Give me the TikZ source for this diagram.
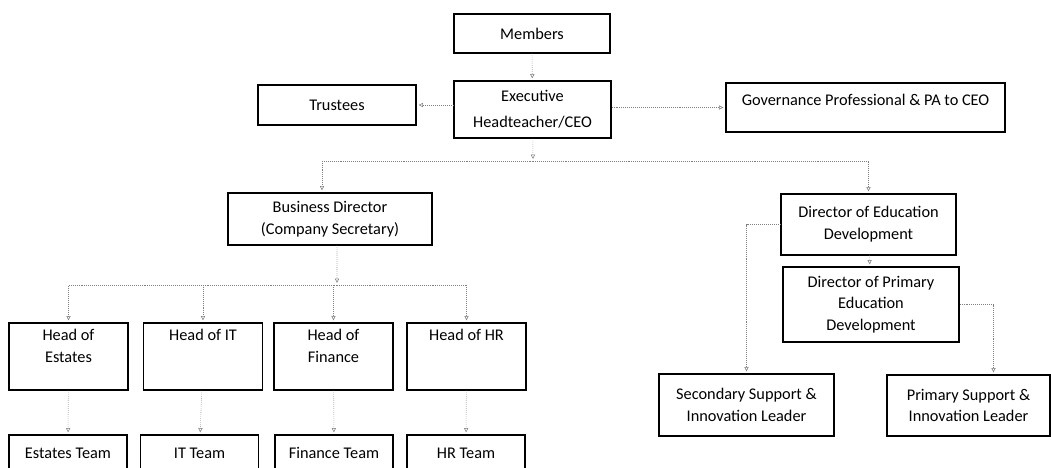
\documentclass[tikz,border=0pt]{standalone}
\usepackage{fontspec}
\setmainfont{Carlito}
\usetikzlibrary{arrows.meta}
\tikzset{
  post/.style={draw=black, line width=0.8pt, align=center, inner sep=1pt,
    font=\fontsize{11.6}{15.5}\selectfont},
  link/.style={draw=gray, line width=0.4pt, densely dotted,
    -{Triangle[open,length=3pt,width=3pt]}, shorten >=1.5pt}
}
\begin{document}
\begin{tikzpicture}[x=0.025cm, y=-0.025cm]
            \useasboundingbox (0,0) rectangle (1051,467);
            \node[post, minimum width=39mm, minimum height=9.75mm] (members) at (532,33.5) {Members};
            \node[post, minimum width=39.25mm, minimum height=14.25mm] (ceo) at (532.5,109.5) {Executive\\[3pt]Headteacher/CEO};
            \node[post, minimum width=39.5mm, minimum height=10mm] (trustees) at (337,105) {Trustees};
            \node[post, minimum width=69.75mm, minimum height=12.25mm] (gov) at (865.5,107.5) {Governance Professional \& PA to CEO\\[-5pt]~};
            \node[post, minimum width=51mm, minimum height=13mm] (bd) at (330,219) {Business Director\\(Company Secretary)};
            \node[post, minimum width=43.75mm, minimum height=15.25mm] (de) at (868.5,224.5) {Director of Education\\Development};
            \node[post, minimum width=44mm, minimum height=18.75mm] (dpe) at (871,304.5) {Director of Primary\\Education\\Development};
            \node[post, minimum width=43.75mm, minimum height=15.5mm] (sec) at (746.5,405) {Secondary Support \&\\Innovation Leader};
            \node[post, minimum width=40.75mm, minimum height=15.25mm] (pri) at (968.5,405.5) {Primary Support \&\\Innovation Leader};
            \node[post, minimum width=29.75mm, minimum height=16.75mm] (hestates) at (68.5,356.5) {Head of\\Estates\\~};
            \node[post, minimum width=29.75mm, minimum height=16.75mm] (hit) at (203,356.5) {Head of IT\\~\\~};
            \node[post, minimum width=29.75mm, minimum height=16.75mm] (hfin) at (333.5,356.5) {Head of\\Finance\\~};
            \node[post, minimum width=29.75mm, minimum height=16.75mm] (hhr) at (466.5,356.5) {Head of HR\\~\\~};
            \node[post, minimum width=29.5mm, minimum height=9mm] (testates) at (68,453) {Estates Team};
            \node[post, minimum width=29.5mm, minimum height=9mm] (tit) at (199.5,453) {IT Team};
            \node[post, minimum width=29.5mm, minimum height=9mm] (tfin) at (334,453) {Finance Team};
            \node[post, minimum width=29.5mm, minimum height=9mm] (thr) at (466,453) {HR Team};
            \coordinate (split1) at (533,161);
            \coordinate (split2) at (337,285);
            \draw[link] (members) -- (ceo);
            \draw[link] (ceo.west |- trustees.east) -- (trustees.east);
            \draw[link] (ceo.east |- gov.west) -- (gov.west);
            \draw[link] (ceo) -- (split1);
            \draw[link] (split1) -| ([xshift=-0.2cm]bd.north);
            \draw[link] (split1) -| (de.north);
            \draw[link] ([xshift=0.175cm]bd.south) -- (split2);
            \draw[link] (split2) -| (hestates.north);
            \draw[link] (split2) -| (hit.north);
            \draw[link] (split2) -| (hfin.north);
            \draw[link] (split2) -| (hhr.north);
            \draw[link] (hestates) -- (testates);
            \draw[link] (hit) -- (tit);
            \draw[link] (hfin) -- (tfin);
            \draw[link] (hhr) -- (thr);
            \draw[link] (de) -- (dpe);
            \draw[link] (de.west) -| (sec.north);
            \draw[link] (dpe.east) -| ([xshift=0.625cm]pri.north);
            \end{tikzpicture}
\end{document}
